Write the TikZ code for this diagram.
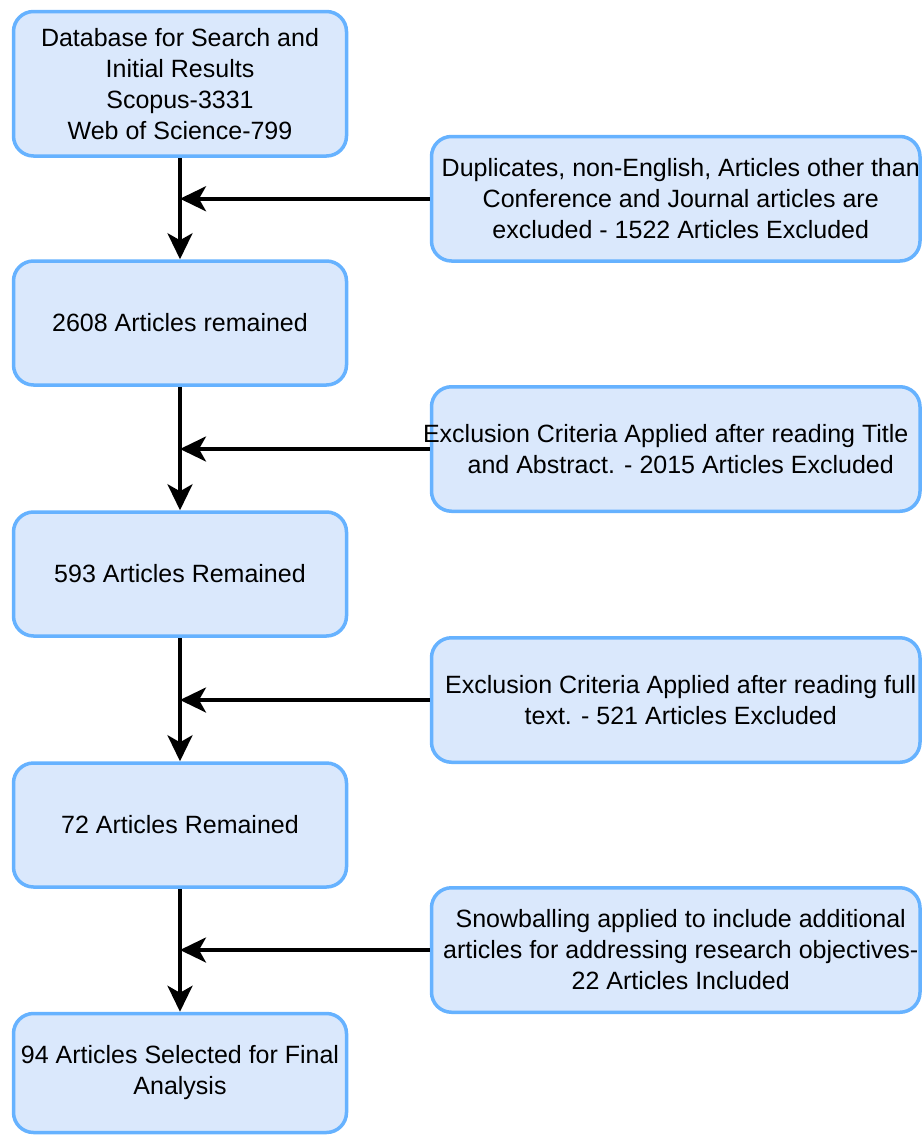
\documentclass[tikz,border=0pt]{standalone}
\usepackage{fontspec}
\setmainfont{Liberation Sans}
\usetikzlibrary{arrows.meta}
\definecolor{boxfill}{HTML}{DAE8FC}
\definecolor{boxline}{HTML}{66B2FF}
\begin{document}
\begin{tikzpicture}[x=1pt,y=-1pt,
  box/.style={draw=boxline, fill=boxfill, line width=3.5pt, rounded corners=20pt,
    align=center, inner sep=0pt, font=\fontsize{25}{31}\selectfont},
  lbox/.style={box, minimum width=333pt, minimum height=124pt},
  rbox/.style={box, minimum width=488.5pt, minimum height=124.5pt},
  arr/.style={line width=3.5pt, -{Stealth[length=26pt, width=25pt, inset=7pt]}}]
\useasboundingbox (0,0) rectangle (922,1135);
\begin{scope}
\clip (0,0) rectangle (922,1135);
\node[lbox, minimum height=144.5pt] (b1) at (180,83.75) {Database for Search and\\Initial Results\\Scopus-3331\\Web of Science-799};
\node[lbox] (b2) at (180,323) {2608 Articles remained};
\node[lbox] (b3) at (180,574) {593 Articles Remained};
\node[lbox] (b4) at (180,825) {72 Articles Remained};
\node[lbox, minimum height=119pt] (b5) at (180,1073) {94 Articles Selected for Final\\Analysis};
\node[rbox] (r1) at (675.75,198.75) {\hspace*{10pt}Duplicates, non-English, Articles other than\\\hspace*{10pt}Conference and Journal articles are\\\hspace*{10pt}excluded - 1522 Articles Excluded};
\node[rbox] (r2) at (675.75,449) {\hspace*{-20pt}Exclusion Criteria Applied after reading Title\\\hspace*{10pt}and Abstract. - 2015 Articles Excluded};
\node[rbox] (r3) at (675.75,700) {\hspace*{10pt}Exclusion Criteria Applied after reading full\\\hspace*{10pt}text. - 521 Articles Excluded};
\node[rbox] (r4) at (675.75,950) {\hspace*{10pt}Snowballing applied to include additional\\\hspace*{10pt}articles for addressing research objectives-\\\hspace*{10pt}22 Articles Included};
\draw[arr] (b1.south) -- (b2.north);
\draw[arr] (b2.south) -- (b3.north);
\draw[arr] (b3.south) -- (b4.north);
\draw[arr] (b4.south) -- (b5.north);
\draw[arr] (r1.west) -- (r1.west -| b1.south);
\draw[arr] (r2.west) -- (r2.west -| b2.south);
\draw[arr] (r3.west) -- (r3.west -| b3.south);
\draw[arr] (r4.west) -- (r4.west -| b4.south);
\end{scope}
\end{tikzpicture}
\end{document}
